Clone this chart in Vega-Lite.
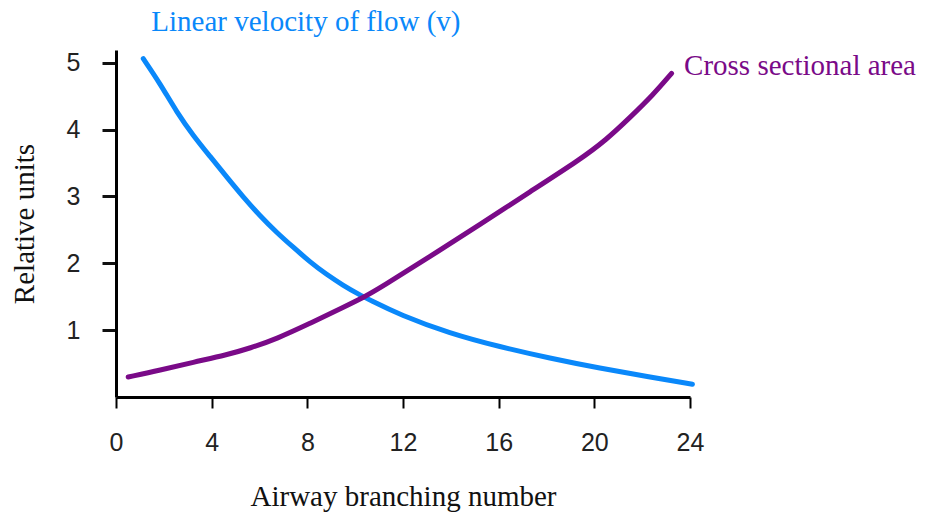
{
  "$schema": "https://vega.github.io/schema/vega-lite/v6.json",
  "width": 574,
  "height": 347,
  "autosize": {"type": "none"},
  "padding": {"left": 116, "top": 50, "right": 236, "bottom": 121},
  "background": "white",
  "config": {"view": {"stroke": null}},
  "datasets": {
    "curves": [
      {"series": "velocity", "x": 1.14, "y": 5.06},
      {"series": "velocity", "x": 1.84, "y": 4.69},
      {"series": "velocity", "x": 2.54, "y": 4.26},
      {"series": "velocity", "x": 3.23, "y": 3.91},
      {"series": "velocity", "x": 3.93, "y": 3.6},
      {"series": "velocity", "x": 4.63, "y": 3.29},
      {"series": "velocity", "x": 5.32, "y": 2.99},
      {"series": "velocity", "x": 6.02, "y": 2.71},
      {"series": "velocity", "x": 6.72, "y": 2.46},
      {"series": "velocity", "x": 7.41, "y": 2.24},
      {"series": "velocity", "x": 8.11, "y": 2.02},
      {"series": "velocity", "x": 8.81, "y": 1.83},
      {"series": "velocity", "x": 9.5, "y": 1.67},
      {"series": "velocity", "x": 10.13, "y": 1.54},
      {"series": "velocity", "x": 10.62, "y": 1.45},
      {"series": "velocity", "x": 11.87, "y": 1.23},
      {"series": "velocity", "x": 13.96, "y": 0.95},
      {"series": "velocity", "x": 16.05, "y": 0.75},
      {"series": "velocity", "x": 18.14, "y": 0.58},
      {"series": "velocity", "x": 20.23, "y": 0.43},
      {"series": "velocity", "x": 22.32, "y": 0.3},
      {"series": "velocity", "x": 24.1, "y": 0.19},
      {"series": "area", "x": 0.51, "y": 0.3},
      {"series": "area", "x": 1.84, "y": 0.4},
      {"series": "area", "x": 3.23, "y": 0.52},
      {"series": "area", "x": 4.63, "y": 0.63},
      {"series": "area", "x": 5.6, "y": 0.73},
      {"series": "area", "x": 6.72, "y": 0.87},
      {"series": "area", "x": 8.11, "y": 1.1},
      {"series": "area", "x": 9.5, "y": 1.34},
      {"series": "area", "x": 10.41, "y": 1.5},
      {"series": "area", "x": 11.04, "y": 1.63},
      {"series": "area", "x": 13.13, "y": 2.1},
      {"series": "area", "x": 15.22, "y": 2.58},
      {"series": "area", "x": 17.31, "y": 3.07},
      {"series": "area", "x": 19.4, "y": 3.55},
      {"series": "area", "x": 20.51, "y": 3.85},
      {"series": "area", "x": 21.49, "y": 4.18},
      {"series": "area", "x": 22.46, "y": 4.52},
      {"series": "area", "x": 23.23, "y": 4.84}
    ],
    "labels": [
      {"series": "velocity", "label": "Linear velocity of flow (v)", "x": 7.94, "y": 5.61},
      {"series": "area", "label": "Cross sectional area", "x": 28.6, "y": 4.95}
    ]
  },
  "layer": [
    {
      "data": {"name": "curves"},
      "mark": {"type": "line", "interpolate": "basis", "strokeWidth": 5, "strokeCap": "round"},
      "encoding": {
        "x": {
          "field": "x", "type": "quantitative",
          "scale": {"domain": [0, 24], "nice": false, "zero": false},
          "axis": {
            "values": [0, 4, 8, 12, 16, 20, 24],
            "format": "d",
            "title": "Airway branching number",
            "titleFont": "Liberation Serif", "titleFontSize": 29, "titleFontWeight": "normal", "titleColor": "#111111",
            "labelFont": "Liberation Sans", "labelFontSize": 25, "labelColor": "#222222",
            "tickSize": 11, "tickWidth": 2, "tickColor": "#000000",
            "domainColor": "#000000", "domainWidth": 3,
            "labelPadding": 22, "titlePadding": 27,
            "grid": false, "labelFlush": false, "labelOverlap": false
          }
        },
        "y": {
          "field": "y", "type": "quantitative",
          "scale": {"domain": [0, 5.19], "nice": false, "zero": false},
          "axis": {
            "values": [1, 2, 3, 4, 5],
            "format": "d",
            "title": "Relative units",
            "titleFont": "Liberation Serif", "titleFontSize": 29, "titleFontWeight": "normal", "titleColor": "#111111",
            "labelFont": "Liberation Sans", "labelFontSize": 25, "labelColor": "#222222",
            "tickSize": 14, "tickWidth": 3, "tickColor": "#111111",
            "domainColor": "#000000", "domainWidth": 3,
            "labelPadding": 22, "titlePadding": 27,
            "grid": false, "labelFlush": false, "labelOverlap": false
          }
        },
        "color": {
          "field": "series", "type": "nominal",
          "scale": {"domain": ["velocity", "area"], "range": ["#0A88FA", "#7A0A88"]},
          "legend": null
        }
      }
    },
    {
      "data": {"name": "labels"},
      "mark": {"type": "text", "font": "Liberation Serif", "fontSize": 29, "align": "center", "baseline": "middle"},
      "encoding": {
        "x": {"field": "x", "type": "quantitative"},
        "y": {"field": "y", "type": "quantitative"},
        "text": {"field": "label"},
        "color": {
          "field": "series", "type": "nominal",
          "scale": {"domain": ["velocity", "area"], "range": ["#0A88FA", "#7A0A88"]},
          "legend": null
        }
      }
    }
  ]
}
